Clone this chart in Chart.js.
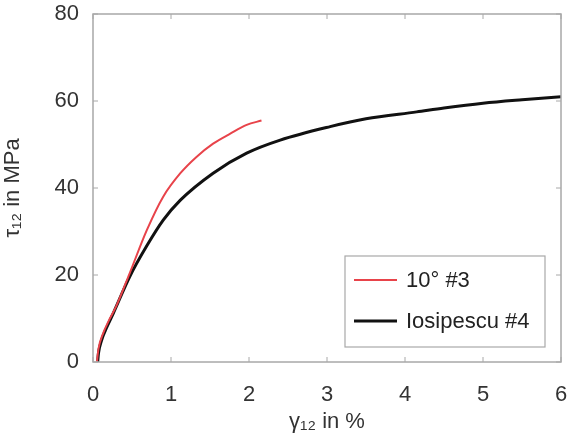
<!DOCTYPE html>
<html>
<head>
<meta charset="utf-8">
<script src="https://cdn.jsdelivr.net/npm/chart.js@4"></script>
<style>
  html, body { margin: 0; padding: 0; background: #fff; }
  #wrap { width: 580px; height: 437px; }
</style>
</head>
<body>
<div id="wrap"><canvas id="chart"></canvas></div>
<script>
// 10° #3 (red)
const redX = [0.05, 0.07, 0.13, 0.20, 0.30, 0.47, 0.69, 0.90, 1.12, 1.33, 1.54, 1.76, 1.97, 2.16];
const redY = [0, 3.0, 6.6, 9.4, 12.9, 20.4, 30.3, 38.0, 43.4, 47.2, 50.2, 52.5, 54.5, 55.5];

// Iosipescu #4 (black)
const blackX = [0.06, 0.07, 0.11, 0.18, 0.26, 0.47, 0.69, 0.90, 1.12, 1.54, 1.97, 2.40, 3.04, 3.5, 4.15, 4.5, 5.0, 5.5, 6.0];
const blackY = [0, 2.0, 5.0, 8.1, 11.2, 19.6, 26.7, 32.6, 37.2, 43.4, 48.0, 51.0, 54.1, 55.9, 57.5, 58.4, 59.5, 60.3, 61.0];

const xTicks = [0, 1, 2, 3, 4, 5, 6];
const yTicks = [0, 20, 40, 60, 80];

const seriesNames = ['10° #3', 'Iosipescu #4'];
const seriesColors = ['#e8434a', '#111111'];

function toPoints(xs, ys) {
    return xs.map((x, i) => ({ x: x, y: ys[i] }));
}

// box, inside ticks and legend drawn on the chart area
const boxPlugin = {
    id: 'boxPlugin',
    afterDraw(chart) {
        const ctx = chart.ctx;
        const a = chart.chartArea;
        const xs = chart.scales.x;
        const ys = chart.scales.y;
        ctx.save();
        ctx.strokeStyle = '#a8a8a8';
        ctx.lineWidth = 1.5;
        ctx.strokeRect(a.left, a.top, a.right - a.left, a.bottom - a.top);
        ctx.lineWidth = 1;
        xTicks.forEach(t => {
            const px = xs.getPixelForValue(t);
            ctx.beginPath();
            ctx.moveTo(px, a.bottom); ctx.lineTo(px, a.bottom - 5);
            ctx.moveTo(px, a.top); ctx.lineTo(px, a.top + 5);
            ctx.stroke();
        });
        yTicks.forEach(t => {
            const py = ys.getPixelForValue(t);
            ctx.beginPath();
            ctx.moveTo(a.left, py); ctx.lineTo(a.left + 5, py);
            ctx.moveTo(a.right, py); ctx.lineTo(a.right - 5, py);
            ctx.stroke();
        });

        // legend box
        const lx = 345, ly = 256, lw = 200, lh = 91;
        ctx.fillStyle = '#fff';
        ctx.fillRect(lx, ly, lw, lh);
        ctx.strokeStyle = '#a8a8a8';
        ctx.lineWidth = 1.2;
        ctx.strokeRect(lx, ly, lw, lh);
        ctx.font = '22px "Liberation Sans", Arial, sans-serif';
        ctx.textBaseline = 'middle';
        chart.data.datasets.forEach((ds, i) => {
            const cy = ly + 24 + i * 41;
            ctx.strokeStyle = ds.borderColor;
            ctx.lineWidth = ds.borderWidth;
            ctx.beginPath();
            ctx.moveTo(lx + 9, cy); ctx.lineTo(lx + 52, cy);
            ctx.stroke();
            ctx.fillStyle = '#222';
            ctx.fillText(ds.label, lx + 61, cy + 1);
        });
        ctx.restore();
    }
};

const ctx = document.getElementById('chart').getContext('2d');
new Chart(ctx, {
    type: 'scatter',
    data: {
        datasets: [
            {
                label: seriesNames[0],
                data: toPoints(redX, redY),
                showLine: true,
                borderColor: seriesColors[0],
                borderWidth: 2,
                pointRadius: 0,
                cubicInterpolationMode: 'monotone'
            },
            {
                label: seriesNames[1],
                data: toPoints(blackX, blackY),
                showLine: true,
                borderColor: seriesColors[1],
                borderWidth: 3,
                pointRadius: 0,
                cubicInterpolationMode: 'monotone'
            }
        ]
    },
    options: {
        responsive: true,
        maintainAspectRatio: false,
        animation: false,
        layout: { padding: { top: 14, right: 19, left: 0, bottom: 0 } },
        plugins: {
            legend: { display: false },
            tooltip: { enabled: false }
        },
        scales: {
            x: {
                type: 'linear',
                min: 0,
                max: 6,
                afterFit: s => {
                    s.height = 75;
                    s.paddingLeft = 0;
                    s.paddingRight = 0;
                },
                afterBuildTicks: s => { s.ticks = xTicks.map(v => ({ value: v })); },
                grid: { display: false, drawTicks: false },
                border: { display: false },
                ticks: {
                    color: '#333',
                    padding: 20,
                    font: { family: '"Liberation Sans", Arial, sans-serif', size: 22 }
                },
                title: {
                    display: true,
                    text: 'γ₁₂ in %',
                    color: '#333',
                    padding: { top: 0, bottom: 2 },
                    font: { family: '"Liberation Sans", Arial, sans-serif', size: 22 }
                }
            },
            y: {
                min: 0,
                max: 80,
                afterFit: s => {
                    s.width = 93;
                    s.paddingTop = 0;
                    s.paddingBottom = 0;
                },
                afterBuildTicks: s => { s.ticks = yTicks.map(v => ({ value: v })); },
                grid: { display: false, drawTicks: false },
                border: { display: false },
                ticks: {
                    color: '#333',
                    padding: 14,
                    font: { family: '"Liberation Sans", Arial, sans-serif', size: 22 }
                },
                title: {
                    display: true,
                    text: 'τ₁₂ in MPa',
                    color: '#333',
                    padding: { top: 0, bottom: 0 },
                    font: { family: '"Liberation Sans", Arial, sans-serif', size: 22 }
                }
            }
        }
    },
    plugins: [boxPlugin]
});
</script>
</body>
</html>
